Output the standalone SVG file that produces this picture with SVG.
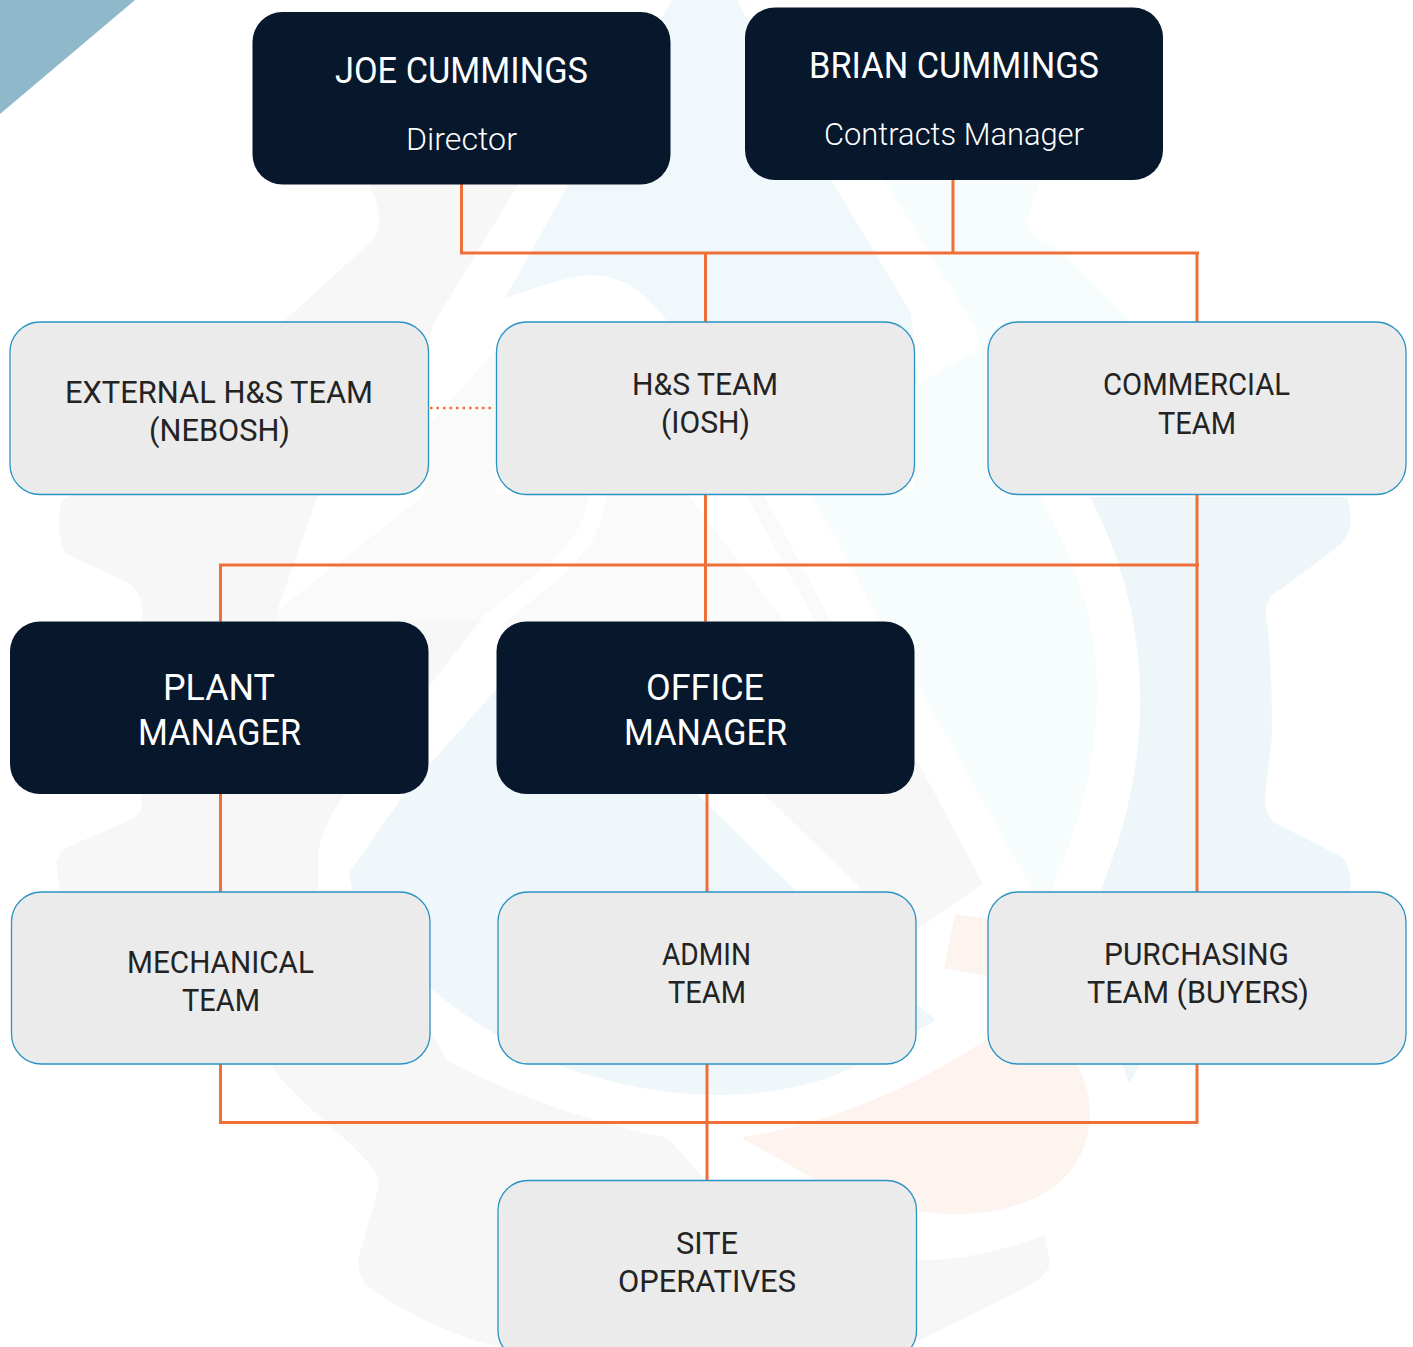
<svg xmlns="http://www.w3.org/2000/svg" width="1413" height="1347" viewBox="0 0 1413 1347">
<style>
.dark{fill:#07172c}
.light{fill:#ebebeb;stroke:#2b93c3;stroke-width:1.3}
text{font-family:"Roboto","Liberation Sans",sans-serif}
.h{fill:#fff;font-size:37.5px;font-weight:400}
.s{fill:#fff;font-size:31.5px;font-weight:300}
.m{fill:#fff;font-size:37.5px;font-weight:400}
.t{fill:#232323;font-size:31px;font-weight:400}
.c{fill:none;stroke:#ee6f38;stroke-width:3}
.d{fill:none;stroke:#ee6f38;stroke-width:2.5;stroke-dasharray:2.500 4}
</style>
<rect width="1413" height="1347" fill="#fff"/>
<g id="background">
<polygon points="0,0 135,0 0,114" fill="#8fb8ca"/>
<path fill="#f7f7f7" d="M368 180 C378 205 384 222 373 240 L285 320 L120 470 L62 500 C58 515 56 540 67 554 L130 584 C140 592 144 605 142 619 L142 802 C142 810 138 816 130 820 L70 846 C58 852 55 862 57 870 L60 892 L250 1030 L269 1064 C300 1105 345 1135 366 1160 C376 1172 380 1178 378 1190 L358 1260 C358 1272 362 1282 372 1290 C410 1315 450 1335 498 1347 L906 1347 L1021 1290 C1040 1280 1050 1272 1050 1260 L1044 1235 C1000 1252 960 1260 917 1260 L800 1262 L705 1180 L668 1138 C590 1122 510 1095 447 1060 L350 890 L318 890 L318 850 C325 825 335 805 349 790 L480 621 L300 621 L318 495 L424 360 L434 323 L521 180 Z"/>
<path fill="#fafafa" d="M428 425 L496 350 L496 495 L809 490 L915 680 L700 680 L480 621 L277 621 L277 611 L424 495 Z"/>
<path fill="#fff" d="M277 611 L318 495 L424 495 Z"/>
<path fill="none" stroke="#fff" stroke-width="18" d="M597 495 C594 530 580 545 555 570 L487 625"/>
<path fill="#fff" d="M688 495 L746 495 L815 621 L784 621 Z M764 495 L809 490 L880 621 L831 621 Z"/>
<path fill="#f7f7f7" d="M760 790 L918 762 L983 884 L918 929 L862 890 Z"/>
<path fill="#f1f8fb" d="M672 0 L737 0 L831 180 L911 313 L920 400 L700 400 L668 322 C650 300 635 285 617 280 C605 275 590 274 575 277 C550 282 525 292 505 298 L571 180 Z"/>
<path fill="#f7fcfc" d="M883 178 L1040 180 L1027 221 C1026 232 1035 240 1060 250 L1127 318 L1130 400 L988 400 L977 331 Z"/>
<path fill="#f7fcfc" d="M915 385 L988 345 L1010 420 L1040 497 C1075 560 1097 620 1097 690 C1097 770 1075 835 1050 892 L1033 891 L915 680 L809 490 L915 490 Z"/>
<path fill="#eff6fa" d="M1090 497 L1347 497 C1352 515 1354 530 1340 545 L1280 590 C1266 596 1264 608 1267 622 C1272 660 1272 720 1272 735 C1270 760 1266 780 1265 800 C1265 812 1270 822 1285 828 L1340 856 C1350 864 1352 880 1350 892 L1100 892 C1125 830 1140 770 1140 699 C1140 620 1120 555 1090 497 Z"/>
<path fill="#eff6fa" d="M1122 1064 L1129 1083 L1141 1064 Z"/>
<path fill="#f0f7fb" d="M349 873 L353 893 C380 950 450 1020 556 1064 C610 1085 670 1095 717 1095 C770 1095 820 1085 860 1064 L936 1020 L915 1003 L795 890 L693 790 L540 640 L407 790 Z"/>
<path fill="#fdf4f0" d="M955 914 L988 919 L988 976 L944 968 Z M994 1034 L1060 1040 C1080 1060 1090 1090 1090 1113 C1090 1140 1080 1160 1067 1175 C1040 1205 990 1216 943 1214 C900 1210 860 1195 833 1190 C800 1170 770 1155 741 1137 C830 1125 920 1085 994 1034 Z"/>
</g>
<g id="connectors">
<path class="c" d="M461.5 184V253H1199"/>
<path class="c" d="M953 180V253"/>
<path class="c" d="M705.5 253V322"/>
<path class="c" d="M1197 253V322"/>
<path class="d" d="M430 408H495"/>
<path class="c" d="M705.5 494V621.5"/>
<path class="c" d="M220.5 621.5V565H1199"/>
<path class="c" d="M1197 494V892"/>
<path class="c" d="M220.5 794V892"/>
<path class="c" d="M707 794V892"/>
<path class="c" d="M220.5 1064V1122.5"/>
<path class="c" d="M219 1122.5H1197V1064"/>
<path class="c" d="M707 1064V1180"/>
</g>
<g id="joe"><rect class="dark" x="252.500" y="12" width="418" height="172.500" rx="30"/>
<text class="h" x="335" y="83" textLength="253" lengthAdjust="spacingAndGlyphs">JOE CUMMINGS</text>
<text class="s" x="406" y="150" textLength="111" lengthAdjust="spacingAndGlyphs">Director</text></g>
<g id="brian"><rect class="dark" x="745" y="7.500" width="418" height="172.500" rx="30"/>
<text class="h" x="809" y="78" textLength="290" lengthAdjust="spacingAndGlyphs">BRIAN CUMMINGS</text>
<text class="s" x="824" y="145" textLength="260" lengthAdjust="spacingAndGlyphs">Contracts Manager</text></g>
<g id="external"><rect class="light" x="10" y="322" width="418.500" height="172.500" rx="30"/>
<text class="t" x="65" y="403" textLength="308" lengthAdjust="spacingAndGlyphs">EXTERNAL H&amp;S TEAM</text>
<text class="t" x="149" y="441" textLength="141" lengthAdjust="spacingAndGlyphs">(NEBOSH)</text></g>
<g id="hs"><rect class="light" x="496.500" y="322" width="418" height="172.500" rx="30"/>
<text class="t" x="632" y="395" textLength="146" lengthAdjust="spacingAndGlyphs">H&amp;S TEAM</text>
<text class="t" x="661" y="433" textLength="89" lengthAdjust="spacingAndGlyphs">(IOSH)</text></g>
<g id="commercial"><rect class="light" x="988" y="322" width="418" height="172.500" rx="30"/>
<text class="t" x="1103" y="395" textLength="187" lengthAdjust="spacingAndGlyphs">COMMERCIAL</text>
<text class="t" x="1158" y="434" textLength="78" lengthAdjust="spacingAndGlyphs">TEAM</text></g>
<g id="plant"><rect class="dark" x="10" y="621.500" width="418.500" height="172.500" rx="30"/>
<text class="m" x="163" y="700" textLength="112" lengthAdjust="spacingAndGlyphs">PLANT</text>
<text class="m" x="138" y="745" textLength="163" lengthAdjust="spacingAndGlyphs">MANAGER</text></g>
<g id="office"><rect class="dark" x="496.500" y="621.500" width="418" height="172.500" rx="30"/>
<text class="m" x="646" y="700" textLength="118" lengthAdjust="spacingAndGlyphs">OFFICE</text>
<text class="m" x="624" y="745" textLength="163" lengthAdjust="spacingAndGlyphs">MANAGER</text></g>
<g id="mechanical"><rect class="light" x="11.500" y="892" width="418.500" height="172" rx="30"/>
<text class="t" x="127" y="973" textLength="187" lengthAdjust="spacingAndGlyphs">MECHANICAL</text>
<text class="t" x="182" y="1011" textLength="78" lengthAdjust="spacingAndGlyphs">TEAM</text></g>
<g id="admin"><rect class="light" x="498" y="892" width="418" height="172" rx="30"/>
<text class="t" x="662" y="965" textLength="89" lengthAdjust="spacingAndGlyphs">ADMIN</text>
<text class="t" x="668" y="1003" textLength="78" lengthAdjust="spacingAndGlyphs">TEAM</text></g>
<g id="purchasing"><rect class="light" x="988" y="892" width="418" height="172" rx="30"/>
<text class="t" x="1104" y="965" textLength="185" lengthAdjust="spacingAndGlyphs">PURCHASING</text>
<text class="t" x="1087" y="1003" textLength="222" lengthAdjust="spacingAndGlyphs">TEAM (BUYERS)</text></g>
<g id="site"><rect class="light" x="498" y="1180.500" width="418.500" height="180" rx="30"/>
<text class="t" x="676" y="1254" textLength="62" lengthAdjust="spacingAndGlyphs">SITE</text>
<text class="t" x="618" y="1292" textLength="178" lengthAdjust="spacingAndGlyphs">OPERATIVES</text></g>
</svg>
